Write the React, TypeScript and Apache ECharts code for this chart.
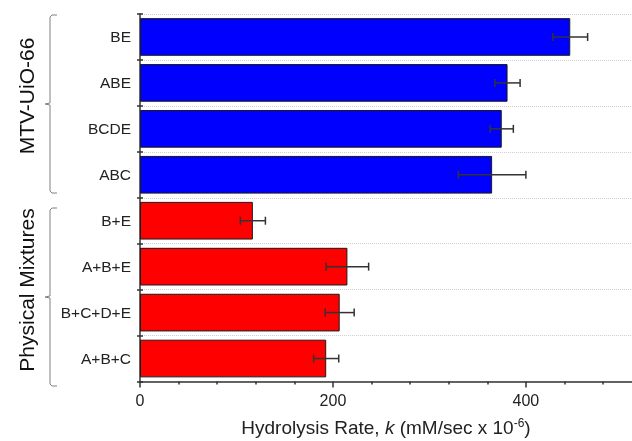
import React, { useEffect, useRef } from "react";
import * as echarts from "echarts";

const mtvCategories = ["BE", "ABE", "BCDE", "ABC"];
const mtvValues = [446, 381, 375, 365];
const mtvErrors = [18, 13, 12, 35];
const mixCategories = ["B+E", "A+B+E", "B+C+D+E", "A+B+C"];
const mixValues = [117, 215, 207, 193];
const mixErrors = [13, 22, 15, 13];
const majorTicks = [0, 200, 400];
const minorTicks = [40, 80, 120, 160, 240, 280, 320, 360, 440, 480];
const groupLabels = ["MTV-UiO-66", "Physical Mixtures"];
const xMax = 510;

const FONT = "'Liberation Sans', Arial, sans-serif";

export default function App() {
  const ref = useRef<HTMLDivElement>(null);
  useEffect(() => {
    if (!ref.current) return;
    const chart = echarts.init(ref.current, null, { renderer: "svg" });
    const categories = [...mtvCategories, ...mixCategories];
    const barData = [
      ...mtvValues.map((v) => ({ value: v, itemStyle: { color: "#0000ff" } })),
      ...mixValues.map((v) => ({ value: v, itemStyle: { color: "#ff0000" } })),
    ];
    const errData = [
      ...mtvValues.map((v, i) => [v, i, mtvErrors[i]]),
      ...mixValues.map((v, i) => [v, i + mtvValues.length, mixErrors[i]]),
    ];
    const bracketStyle = { stroke: "#808080", lineWidth: 1, fill: "none" };
    const bracket = (top: number, mid: number, bottom: number) => ({
      type: "polyline",
      shape: {
        points: [
          [57, top], [52, top], [50, top + 2], [50, mid - 1], [45, mid],
          [50, mid + 1], [50, bottom - 2], [52, bottom], [57, bottom],
        ],
      },
      style: bracketStyle,
      silent: true,
    });
    chart.setOption({
      animation: false,
      grid: { left: 140, right: 0, top: 14, bottom: 59.5, containLabel: false, outerBoundsMode: "none" },
      xAxis: [
        {
          type: "value",
          min: 0,
          max: xMax,
          axisLine: { show: true, lineStyle: { color: "#333", width: 1.5 } },
          axisTick: { show: true, customValues: majorTicks, length: 6, lineStyle: { color: "#333", width: 1.5 } },
          axisLabel: { customValues: majorTicks, fontSize: 16, color: "#222", fontFamily: FONT, margin: 11 },
          splitLine: { show: false },
          name: "{a|Hydrolysis Rate, }{k|k}{a| (mM/sec x 10}{s|-6}{a|)}",
          nameLocation: "middle",
          nameGap: 35,
          nameTextStyle: {
            rich: {
              a: { fontSize: 19, color: "#222", fontFamily: FONT, lineHeight: 22 },
              k: { fontSize: 19, color: "#222", fontFamily: FONT, fontStyle: "italic", lineHeight: 22 },
              s: { fontSize: 12, color: "#222", fontFamily: FONT, verticalAlign: "top", lineHeight: 13 },
            },
          },
        },
        {
          type: "value",
          min: 0,
          max: xMax,
          position: "bottom",
          axisLine: { show: false },
          axisTick: { show: true, customValues: minorTicks, length: 3, lineStyle: { color: "#333", width: 1.5 } },
          axisLabel: { show: false },
          splitLine: { show: false },
        },
      ],
      yAxis: [
        {
          type: "category",
          data: categories,
          inverse: true,
          axisLine: { show: true, lineStyle: { color: "#333", width: 1.5 } },
          axisTick: { show: true, length: 3, lineStyle: { color: "#333", width: 1.5 } },
          axisLabel: { fontSize: 15.5, color: "#222", fontFamily: FONT, margin: 9 },
          splitLine: { show: true, lineStyle: { color: "#cfcfcf", type: "dotted", width: 1 } },
        },
        {
          type: "category",
          data: categories,
          inverse: true,
          position: "left",
          axisLine: { show: false },
          axisTick: { show: true, inside: true, length: 3, lineStyle: { color: "#333", width: 1.5 } },
          axisLabel: { show: false },
          splitLine: { show: false },
        },
      ],
      series: [
        {
          type: "bar",
          xAxisIndex: 0,
          yAxisIndex: 0,
          data: barData,
          barCategoryGap: "18%",
          itemStyle: { borderColor: "#1a1a1a", borderWidth: 1 },
          z: 2,
        },
        {
          type: "custom",
          xAxisIndex: 0,
          yAxisIndex: 0,
          data: errData,
          encode: { x: 0, y: 1 },
          z: 5,
          renderItem: (params: any, api: any) => {
            const v = api.value(0);
            const c = api.value(1);
            const e = api.value(2);
            const lo = api.coord([v - e, c]);
            const hi = api.coord([v + e, c]);
            const h = 4;
            const st = { stroke: "#333", lineWidth: 1.5 };
            return {
              type: "group",
              children: [
                { type: "line", shape: { x1: lo[0], y1: lo[1], x2: hi[0], y2: hi[1] }, style: st },
                { type: "line", shape: { x1: lo[0], y1: lo[1] - h, x2: lo[0], y2: lo[1] + h }, style: st },
                { type: "line", shape: { x1: hi[0], y1: hi[1] - h, x2: hi[0], y2: hi[1] + h }, style: st },
              ],
            };
          },
        },
      ],
      graphic: [
        bracket(15, 104, 193),
        bracket(208, 297, 386),
        {
          type: "text",
          x: 26,
          y: 96,
          rotation: Math.PI / 2,
          style: { text: groupLabels[0], fontSize: 21, fill: "#111", fontFamily: FONT, align: "center", verticalAlign: "middle" },
        },
        {
          type: "text",
          x: 26,
          y: 290,
          rotation: Math.PI / 2,
          style: { text: groupLabels[1], fontSize: 21, fill: "#111", fontFamily: FONT, align: "center", verticalAlign: "middle" },
        },
      ],
    });
    return () => chart.dispose();
  }, []);
  return <div ref={ref} style={{ position: "fixed", left: 0, top: 0, width: 632, height: 441 }} />;
}
